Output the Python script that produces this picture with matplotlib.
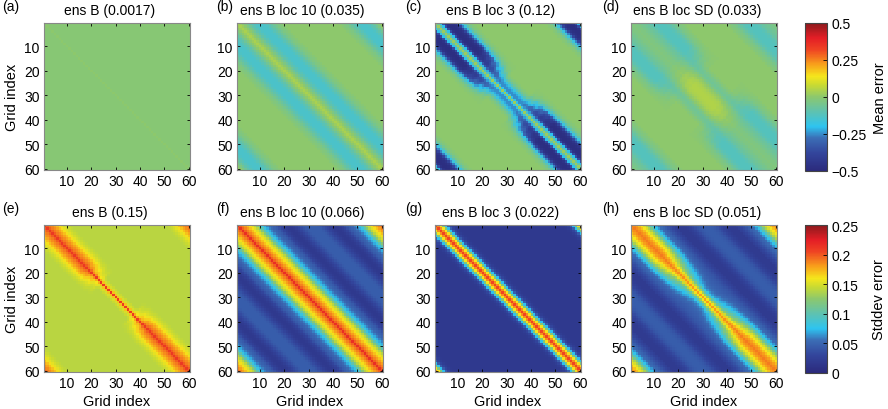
import numpy as np
import matplotlib
matplotlib.use("Agg")
import matplotlib.pyplot as plt
from matplotlib.colors import LinearSegmentedColormap

plt.rcParams['font.family'] = ['Liberation Sans', 'DejaVu Sans']
plt.rcParams['font.size'] = 10

N = 60

# values read per periodic distance from the diagonal (0..30)
# "end" profile = near the ends of the diagonal, "mid" = around grid index 30
mean_titles = ['ens B (0.0017)', 'ens B loc 10 (0.035)', 'ens B loc 3 (0.12)', 'ens B loc SD (0.033)']
std_titles = ['ens B (0.15)', 'ens B loc 10 (0.066)', 'ens B loc 3 (0.022)', 'ens B loc SD (0.051)']
letters = ['(a)', '(b)', '(c)', '(d)', '(e)', '(f)', '(g)', '(h)']

mean_a_end = [0.0, -0.01, -0.01, -0.01, -0.01, -0.01, -0.01, -0.01, -0.01, -0.01,
              -0.01, -0.01, -0.01, -0.01, -0.01, -0.01, -0.01, -0.01, -0.01, -0.01,
              -0.01, -0.01, -0.01, -0.01, -0.01, -0.01, -0.01, -0.01, -0.01, -0.01, -0.01]
mean_b_end = [0.04, 0.02, 0.0, -0.03, -0.06, -0.09, -0.11, -0.13, -0.14, -0.14,
              -0.14, -0.13, -0.11, -0.09, -0.07, -0.05, -0.03, -0.02, -0.01, 0.0,
              0.0, 0.0, 0.0, 0.0, 0.0, 0.0, 0.0, 0.0, 0.0, 0.0, 0.0]
mean_c_end = [0.02, -0.08, -0.2, -0.36, -0.46, -0.48, -0.48, -0.47, -0.45, -0.38,
              -0.26, -0.17, -0.1, -0.05, -0.02, -0.01, 0.0, 0.0, 0.0, 0.0,
              0.0, 0.0, 0.0, 0.0, 0.0, 0.0, 0.0, 0.0, 0.0, 0.0, 0.0]
mean_c_mid = [0.02, -0.18, -0.25, -0.25, -0.22, -0.17, -0.11, -0.06, -0.03, -0.01,
              0.0, 0.0, 0.0, 0.0, 0.0, 0.0, 0.0, 0.0, 0.0, 0.0,
              0.0, 0.0, 0.0, 0.0, 0.0, 0.0, 0.0, 0.0, 0.0, 0.0, 0.0]
mean_d_end = [-0.02, -0.03, -0.03, -0.04, -0.05, -0.06, -0.07, -0.08, -0.1, -0.11,
              -0.12, -0.12, -0.12, -0.12, -0.11, -0.1, -0.08, -0.06, -0.04, -0.03,
              -0.02, -0.01, 0.0, 0.0, 0.0, 0.0, 0.0, 0.0, 0.0, 0.0, 0.0]
mean_d_mid = [0.05, 0.05, 0.045, 0.04, 0.03, 0.015, 0.0, -0.03, -0.05, -0.06,
              -0.05, -0.04, -0.02, -0.01, 0.0, 0.0, 0.0, 0.0, 0.0, 0.0,
              0.0, 0.0, 0.0, 0.0, 0.0, 0.0, 0.0, 0.0, 0.0, 0.0, 0.0]

std_e_end = [0.21, 0.198, 0.19, 0.185, 0.178, 0.17, 0.162, 0.155, 0.149, 0.145,
             0.142, 0.14, 0.14, 0.14, 0.14, 0.14, 0.14, 0.14, 0.14, 0.14,
             0.14, 0.14, 0.14, 0.14, 0.14, 0.14, 0.14, 0.14, 0.14, 0.14, 0.14]
std_e_mid = [0.21, 0.17, 0.15, 0.145, 0.14, 0.14, 0.14, 0.14, 0.14, 0.14,
             0.14, 0.14, 0.14, 0.14, 0.14, 0.14, 0.14, 0.14, 0.14, 0.14,
             0.14, 0.14, 0.14, 0.14, 0.14, 0.14, 0.14, 0.14, 0.14, 0.14, 0.14]
std_f_end = [0.215, 0.197, 0.188, 0.18, 0.17, 0.162, 0.152, 0.14, 0.122, 0.1,
             0.082, 0.07, 0.06, 0.053, 0.048, 0.044, 0.038, 0.03, 0.024, 0.02,
             0.018, 0.018, 0.02, 0.024, 0.03, 0.035, 0.04, 0.043, 0.045, 0.045, 0.045]
std_g_end = [0.205, 0.185, 0.16, 0.12, 0.075, 0.045, 0.03, 0.022, 0.019, 0.018,
             0.018, 0.018, 0.018, 0.018, 0.018, 0.018, 0.018, 0.018, 0.018, 0.018,
             0.018, 0.018, 0.018, 0.018, 0.018, 0.018, 0.018, 0.018, 0.018, 0.018, 0.018]
std_h_end = [0.19, 0.185, 0.18, 0.17, 0.16, 0.15, 0.135, 0.115, 0.095, 0.078,
             0.065, 0.055, 0.05, 0.045, 0.04, 0.035, 0.03, 0.025, 0.02, 0.02,
             0.02, 0.02, 0.022, 0.025, 0.03, 0.035, 0.04, 0.042, 0.044, 0.045, 0.045]
std_h_mid = [0.18, 0.16, 0.13, 0.1, 0.08, 0.065, 0.058, 0.054, 0.05, 0.048,
             0.046, 0.044, 0.042, 0.04, 0.036, 0.032, 0.028, 0.024, 0.02, 0.02,
             0.02, 0.02, 0.022, 0.025, 0.03, 0.035, 0.04, 0.042, 0.044, 0.045, 0.045]

# share of the "end" profile by position along the diagonal (0 = end, 30 = middle)
w_c = [1] * 15 + [0.95, 0.9, 0.85, 0.78, 0.7, 0.6, 0.5, 0.38, 0.26, 0.15, 0.06, 0, 0, 0, 0, 0]
w_d = [1] * 17 + [0.92, 0.82, 0.7, 0.58, 0.45, 0.32, 0.2, 0.1, 0, 0, 0, 0, 0, 0]
w_e = [1] * 18 + [0.85, 0.7, 0.55, 0.4, 0.25, 0.1, 0, 0, 0, 0, 0, 0, 0]
w_h = [1] * 13 + [0.95, 0.9, 0.85, 0.78, 0.7, 0.62, 0.55, 0.47, 0.4, 0.33, 0.26,
                  0.2, 0.14, 0.08, 0.04, 0, 0, 0]

mean_panels = [(mean_a_end, None, None), (mean_b_end, None, None),
               (mean_c_end, mean_c_mid, w_c), (mean_d_end, mean_d_mid, w_d)]
std_panels = [(std_e_end, std_e_mid, w_e), (std_f_end, None, None),
              (std_g_end, None, None), (std_h_end, std_h_mid, w_h)]


def build(end, mid, w):
    i, j = np.meshgrid(np.arange(N), np.arange(N), indexing='ij')
    diff = np.abs(i - j)
    d = np.where(diff > N // 2, N - diff, diff)
    m = (i + j) / 2.0
    m = np.where(diff > N // 2, (m + N / 2) % N, m)
    p = np.rint(np.minimum(m, N - 1 - m)).astype(int)
    p = np.clip(p, 0, 30)
    end = np.asarray(end)
    if mid is None:
        return end[d]
    w = np.asarray(w, dtype=float)[p]
    return w * end[d] + (1 - w) * np.asarray(mid)[d]


cmap = LinearSegmentedColormap.from_list('errmap', [
    (0.0, '#2b2a7c'), (0.12, '#33459c'), (0.22, '#3b6db5'), (0.3, '#2ec4f0'),
    (0.4, '#5ec2b0'), (0.5, '#8cc86e'), (0.58, '#c8da33'), (0.64, '#f5e61c'),
    (0.72, '#f8a11b'), (0.82, '#ef4423'), (0.9, '#e41e26'), (1.0, '#8c1a1d')])

W, H = 888, 410
fig = plt.figure(figsize=(W / 100, H / 100), dpi=100)

lefts = [44, 237, 435, 631]
tops = [24, 226]
aw, ah = 146, 147
letter_x = [2, 216, 405, 602]


def px_axes(l, t, w, h):
    return fig.add_axes([l / W, 1 - (t + h) / H, w / W, h / H])


for row in range(2):
    panels = mean_panels if row == 0 else std_panels
    titles = mean_titles if row == 0 else std_titles
    vmin, vmax = (-0.5, 0.5) if row == 0 else (0, 0.25)
    for col in range(4):
        ax = px_axes(lefts[col], tops[row], aw, ah)
        data = build(*panels[col])
        im = ax.imshow(data, cmap=cmap, vmin=vmin, vmax=vmax, interpolation='nearest',
                       extent=[0.5, N + 0.5, N + 0.5, 0.5], aspect='auto')
        ax.set_xticks([10, 20, 30, 40, 50, 60])
        ax.set_yticks([10, 20, 30, 40, 50, 60])
        ax.tick_params(direction='in', top=True, right=True, length=2.5, width=0.6,
                       labelsize=10, pad=3)
        for s in ax.spines.values():
            s.set_color('#888888')
            s.set_linewidth(0.8)
        ax.text(0.45, 1.04, titles[col], transform=ax.transAxes, ha='center', va='bottom',
                fontsize=10)
        fig.text(letter_x[col] / W, 1 - (tops[row] - 10) / H, letters[row * 4 + col],
                 ha='left', va='bottom', fontsize=10)
        if col == 0:
            ax.set_ylabel('Grid index', fontsize=10.5, labelpad=4)
        if row == 1:
            ax.set_xlabel('Grid index', fontsize=10.5, labelpad=3)
    cax = px_axes(805, tops[row], 22, 148)
    if row == 0:
        cb = fig.colorbar(im, cax=cax, ticks=[-0.5, -0.25, 0, 0.25, 0.5])
        cb.ax.set_yticklabels(['\u22120.5', '\u22120.25', '0', '0.25', '0.5'])
        cb.set_label('Mean error', fontsize=10.5, labelpad=5)
    else:
        cb = fig.colorbar(im, cax=cax, ticks=[0, 0.05, 0.1, 0.15, 0.2, 0.25])
        cb.ax.set_yticklabels(['0', '0.05', '0.1', '0.15', '0.2', '0.25'])
        cb.set_label('Stddev error', fontsize=10.5, labelpad=10)
    cb.ax.tick_params(direction='in', length=3, width=0.6, labelsize=10, pad=3)
    cb.outline.set_edgecolor('#444444')
    cb.outline.set_linewidth(0.8)

plt.savefig('out.png', dpi=100)
